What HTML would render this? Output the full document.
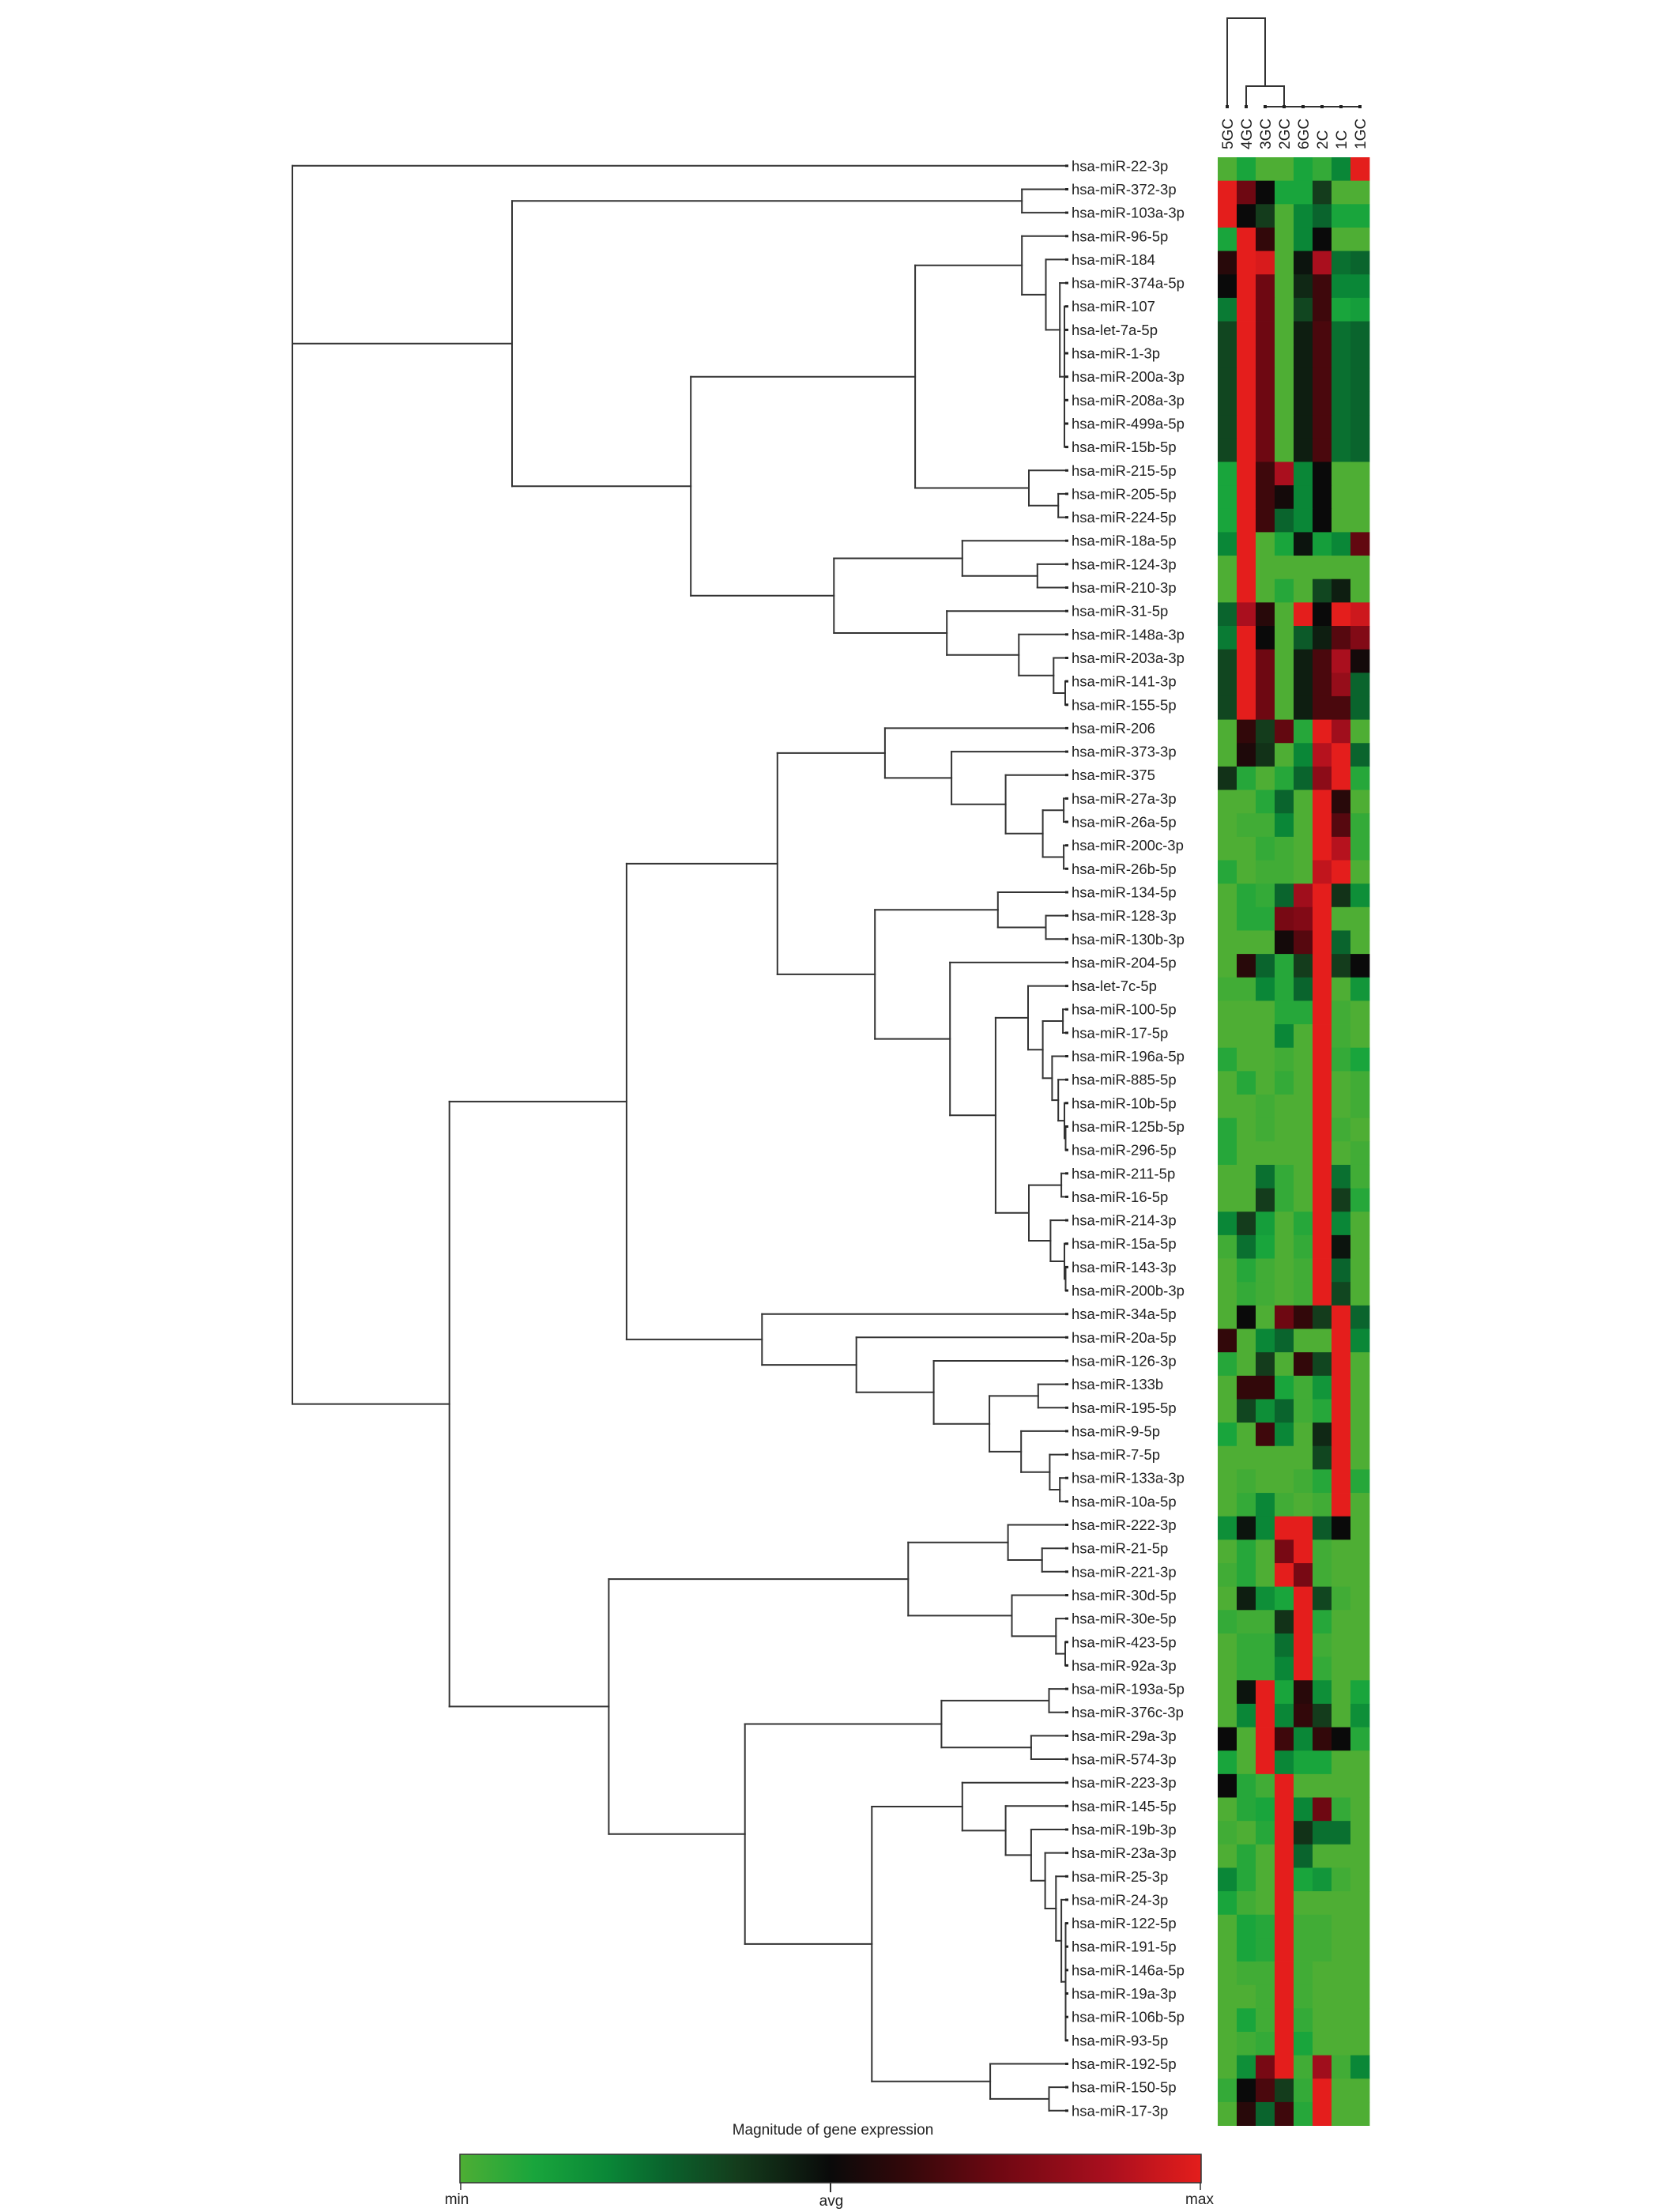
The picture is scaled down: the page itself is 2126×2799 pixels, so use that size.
<!DOCTYPE html>
<html>
<head>
<meta charset="utf-8">
<style>
html,body{margin:0;padding:0;background:#fff;}
svg{display:block;}
text{font-family:"Liberation Sans",Arial,sans-serif;fill:#222;}
</style>
</head>
<body>
<svg id="chart" width="2126" height="2799" viewBox="0 0 2126 2799" xmlns="http://www.w3.org/2000/svg">
  <g id="rowTree"></g>
  <g id="labels"></g>
  <g id="cells"></g>
  <g id="colTree"></g>
  <g id="colLabels"></g>
  <g id="legend">
    <defs>
      <linearGradient id="cgrad" x1="0" x2="1" y1="0" y2="0"></linearGradient>
    </defs>
    <text x="1054" y="2701" font-size="19" text-anchor="middle">Magnitude of gene expression</text>
    <rect x="582" y="2726" width="938" height="36" fill="url(#cgrad)" stroke="#333" stroke-width="1.5"></rect>
    <line x1="583" y1="2762" x2="583" y2="2771" stroke="#333" stroke-width="1.5"></line>
    <line x1="1051" y1="2762" x2="1051" y2="2774" stroke="#333" stroke-width="2"></line>
    <line x1="1519" y1="2762" x2="1519" y2="2771" stroke="#333" stroke-width="1.5"></line>
    <text x="578" y="2789" font-size="19" text-anchor="middle">min</text>
    <text x="1052" y="2791" font-size="19" text-anchor="middle">avg</text>
    <text x="1518" y="2789" font-size="19" text-anchor="middle">max</text>
  </g>
</svg>
<script>
const genes = ["hsa-miR-22-3p","hsa-miR-372-3p","hsa-miR-103a-3p","hsa-miR-96-5p","hsa-miR-184","hsa-miR-374a-5p","hsa-miR-107","hsa-let-7a-5p","hsa-miR-1-3p","hsa-miR-200a-3p","hsa-miR-208a-3p","hsa-miR-499a-5p","hsa-miR-15b-5p","hsa-miR-215-5p","hsa-miR-205-5p","hsa-miR-224-5p","hsa-miR-18a-5p","hsa-miR-124-3p","hsa-miR-210-3p","hsa-miR-31-5p","hsa-miR-148a-3p","hsa-miR-203a-3p","hsa-miR-141-3p","hsa-miR-155-5p",
"hsa-miR-206","hsa-miR-373-3p","hsa-miR-375","hsa-miR-27a-3p","hsa-miR-26a-5p","hsa-miR-200c-3p","hsa-miR-26b-5p","hsa-miR-134-5p","hsa-miR-128-3p","hsa-miR-130b-3p","hsa-miR-204-5p","hsa-let-7c-5p","hsa-miR-100-5p","hsa-miR-17-5p","hsa-miR-196a-5p","hsa-miR-885-5p","hsa-miR-10b-5p","hsa-miR-125b-5p","hsa-miR-296-5p","hsa-miR-211-5p","hsa-miR-16-5p","hsa-miR-214-3p","hsa-miR-15a-5p","hsa-miR-143-3p","hsa-miR-200b-3p",
"hsa-miR-34a-5p","hsa-miR-20a-5p","hsa-miR-126-3p","hsa-miR-133b","hsa-miR-195-5p","hsa-miR-9-5p","hsa-miR-7-5p","hsa-miR-133a-3p","hsa-miR-10a-5p",
"hsa-miR-222-3p","hsa-miR-21-5p","hsa-miR-221-3p","hsa-miR-30d-5p","hsa-miR-30e-5p","hsa-miR-423-5p","hsa-miR-92a-3p",
"hsa-miR-193a-5p","hsa-miR-376c-3p","hsa-miR-29a-3p","hsa-miR-574-3p",
"hsa-miR-223-3p","hsa-miR-145-5p","hsa-miR-19b-3p","hsa-miR-23a-3p","hsa-miR-25-3p","hsa-miR-24-3p","hsa-miR-122-5p","hsa-miR-191-5p","hsa-miR-146a-5p","hsa-miR-19a-3p","hsa-miR-106b-5p","hsa-miR-93-5p",
"hsa-miR-192-5p","hsa-miR-150-5p","hsa-miR-17-3p"];

const samples = ["5GC","4GC","3GC","2GC","6GC","2C","1C","1GC"];

// expression (min=-1, avg=0, max=1), one row per gene, columns in sample order
const expr = [
[-1,-.8,-1,-1,-.8,-.9,-.6,1],
[1,.45,0,-.8,-.8,-.25,-1,-1],
[1,0,-.25,-1,-.6,-.45,-.8,-.8],
[-.8,1,.2,-1,-.6,0,-1,-1],
[.15,1,.95,-1,-.05,.75,-.5,-.45],
[0,1,.45,-1,-.15,.25,-.6,-.6],
[-.55,1,.45,-1,-.3,.25,-.8,-.75],
[-.3,1,.45,-1,-.1,.3,-.5,-.45],
[-.3,1,.45,-1,-.1,.3,-.5,-.45],
[-.3,1,.45,-1,-.1,.3,-.5,-.45],
[-.3,1,.45,-1,-.1,.3,-.5,-.45],
[-.3,1,.45,-1,-.1,.3,-.5,-.45],
[-.3,1,.45,-1,-.1,.3,-.5,-.45],
[-.8,1,.25,.75,-.6,0,-1,-1],
[-.8,1,.25,.05,-.6,0,-1,-1],
[-.8,1,.25,-.45,-.6,0,-1,-1],
[-.6,1,-1,-.8,-.05,-.75,-.6,.4],
[-1,1,-1,-1,-1,-1,-1,-1],
[-1,1,-1,-.85,-1,-.3,-.1,-1],
[-.45,.75,.15,-1,1,0,1,.9],
[-.55,1,0,-1,-.4,-.1,.35,.55],
[-.3,1,.45,-1,-.1,.3,.75,.05],
[-.3,1,.45,-1,-.1,.3,.65,-.45],
[-.3,1,.45,-1,-.1,.3,.3,-.45],
[-1,.2,-.25,.4,-.85,1,.7,-1],
[-1,.1,-.2,-1,-.6,.8,1,-.45],
[-.2,-.85,-1,-.85,-.45,.6,1,-.85],
[-1,-1,-.85,-.45,-1,1,.15,-1],
[-1,-.95,-.95,-.6,-1,1,.35,-.9],
[-1,-1,-.9,-.95,-1,1,.8,-.9],
[-.85,-1,-.95,-.95,-1,.85,1,-1],
[-1,-.85,-.9,-.45,.7,1,-.2,-.65],
[-1,-.85,-.85,.5,.55,1,-1,-1],
[-1,-1,-1,.05,.35,1,-.45,-1],
[-1,.15,-.45,-.85,-.25,1,-.25,0],
[-.95,-.95,-.6,-.85,-.45,1,-1,-.7],
[-1,-1,-1,-.85,-.85,1,-.95,-1],
[-1,-1,-1,-.6,-1,1,-.95,-1],
[-.85,-1,-1,-.95,-1,1,-.9,-.8],
[-1,-.85,-1,-.9,-1,1,-1,-.95],
[-1,-1,-.95,-1,-1,1,-1,-.95],
[-.85,-1,-.95,-1,-1,1,-.95,-1],
[-.85,-1,-1,-1,-1,1,-1,-.95],
[-1,-1,-.5,-.9,-1,1,-.5,-.95],
[-1,-1,-.25,-.9,-1,1,-.25,-.85],
[-.6,-.25,-.75,-1,-.85,1,-.6,-1],
[-.95,-.5,-.8,-1,-.9,1,-.05,-1],
[-1,-.85,-.95,-1,-.95,1,-.45,-1],
[-1,-.9,-.95,-1,-.95,1,-.3,-1],
[-1,0,-1,.45,.2,-.25,1,-.45],
[.2,-1,-.6,-.45,-1,-1,1,-.6],
[-.85,-1,-.25,-1,.2,-.3,1,-1],
[-1,.2,.2,-.8,-.95,-.7,1,-1],
[-1,-.3,-.65,-.45,-.95,-.85,1,-1],
[-.8,-1,.25,-.6,-1,-.15,1,-1],
[-1,-1,-1,-1,-1,-.3,1,-1],
[-1,-.95,-1,-1,-.95,-.85,1,-.85],
[-1,-.9,-.6,-.95,-1,-.95,1,-1],
[-.65,-.05,-.6,1,1,-.4,0,-1],
[-1,-.85,-1,.5,1,-.95,-1,-1],
[-.95,-.85,-1,1,.5,-.95,-1,-1],
[-1,-.1,-.65,-.8,1,-.3,-.95,-1],
[-.9,-.95,-.95,-.2,1,-.85,-1,-1],
[-1,-.9,-.9,-.5,1,-.95,-1,-1],
[-1,-.9,-.9,-.6,1,-.9,-1,-1],
[-1,-.05,1,-.8,.15,-.65,-1,-.8],
[-1,-.6,1,-.6,.2,-.25,-1,-.65],
[0,-1,1,.25,-.6,.2,0,-.85],
[-.8,-1,1,-.6,-.8,-.8,-1,-1],
[0,-.85,-.95,1,-1,-1,-1,-1],
[-1,-.85,-.8,1,-.6,.45,-.9,-1],
[-.95,-1,-.85,1,-.2,-.5,-.5,-1],
[-1,-.85,-1,1,-.45,-1,-1,-1],
[-.6,-.85,-1,1,-.8,-.7,-.95,-1],
[-.8,-.95,-1,1,-1,-1,-1,-1],
[-1,-.8,-.85,1,-.95,-.95,-1,-1],
[-1,-.8,-.85,1,-.95,-.95,-1,-1],
[-1,-.95,-.95,1,-.95,-1,-1,-1],
[-1,-1,-.95,1,-.95,-1,-1,-1],
[-1,-.8,-.95,1,-.9,-1,-1,-1],
[-1,-.95,-.9,1,-.8,-1,-1,-1],
[-1,-.65,.5,1,-.95,.7,-.95,-.6],
[-.9,0,.3,-.25,-.9,1,-1,-1],
[-1,.15,-.45,.25,-.85,1,-1,-1]
];

// row dendrogram: [height, children...]; leaves are gene indices
const rowTree = [100, 0,
 [71.6, [5.7,1,2],
   [48.5,
     [19.5, [5.7,3,[2.6,4,[0.8,5,[0.2,6,7,8,9,10,11,12]]]], [4.8,13,[1.0,14,15]]],
     [30.0, [13.4,16,[3.7,17,18]], [15.4,19,[6.1,20,[1.6,21,[0.1,22,23]]]]]
   ]
 ],
 [79.7,
   [56.8,
     [37.3,
       [23.4,24,[14.8,25,[7.8,26,[3.0,[0.3,27,28],[0.3,29,30]]]]],
       [24.7,
         [8.8,31,[2.6,32,33]],
         [15.0,34,[9.1,
            [4.9,35,[3.0,[0.4,36,37],[1.8,38,[1.0,39,[0.2,40,[0.05,41,42]]]]]],
            [4.8,[0.6,43,44],[2.0,45,[0.2,46,[0.05,47,48]]]]
         ]]
       ]
     ],
     [39.3,49,[27.1,50,[17.1,51,[9.9,[3.6,52,53],[5.8,54,[2.1,55,[0.8,56,57]]]]]]]
   ],
   [59.1,
     [20.4,[7.5,58,[3.1,59,60]],[7.0,61,[1.3,62,[0.1,63,64]]]],
     [41.5,
       [16.1,[2.2,65,66],[4.5,67,68]],
       [25.1,
         [13.4,69,[7.8,70,[4.5,71,[2.7,72,[1.3,73,[0.6,74,[0.05,75,76,77,78,79,80]]]]]]],
         [9.8,81,[2.2,82,83]]
       ]
     ]
   ]
 ]
];

// column dendrogram
const colTree = [100, 0, [23.2, 1, [0, 2, 3, 4, 5, 6, 7]]];

const colorStops = [[0,[78,174,52]],[0.1,[25,165,60]],[0.2,[10,135,55]],[0.275,[10,100,45]],[0.375,[20,60,28]],[0.5,[10,10,10]],[0.6,[50,8,10]],[0.725,[110,8,18]],[0.875,[170,15,30]],[1,[228,30,28]]];

const NS = "http://www.w3.org/2000/svg";
const HM_X = 1541, HM_W = 192, HM_TOP = 199, ROW_H = 29.65;
const COL_W = HM_W / samples.length;
const LEAF_X = 1349, ROOT_X = 370;

function xRow(h){ return LEAF_X - (LEAF_X - ROOT_X) * h / 100; }
function yRow(i){ return HM_TOP + ROW_H * (i + 0.5) - 4; }
function xCol(j){ return HM_X + COL_W * (j + 0.5); }
function yColH(h){ return 135 - h * 1.12; }

function color(v){
  const t = Math.max(0, Math.min(1, (v + 1) / 2));
  for (let i = 1; i < colorStops.length; i++){
    if (t <= colorStops[i][0]){
      const a = colorStops[i-1], b = colorStops[i];
      const f = (t - a[0]) / (b[0] - a[0]);
      const c = a[1].map((x,k)=>Math.round(x + (b[1][k]-x)*f));
      return "rgb(" + c.join(",") + ")";
    }
  }
  return "rgb(228,30,28)";
}

function mk(tag, attrs, parent){
  const el = document.createElementNS(NS, tag);
  for (const k in attrs) el.setAttribute(k, attrs[k]);
  parent.appendChild(el);
  return el;
}

// legend gradient
const grad = document.getElementById("cgrad");
colorStops.forEach(s=>{
  mk("stop", {offset: s[0], "stop-color": "rgb(" + s[1].join(",") + ")"}, grad);
});

// heatmap
const cells = document.getElementById("cells");
expr.forEach((row, i)=>{
  row.forEach((v, j)=>{
    const r = mk("rect", {x: (HM_X + COL_W*j).toFixed(2), y: (HM_TOP + ROW_H*i).toFixed(2), width: (COL_W+0.4).toFixed(2), height: (ROW_H+0.4).toFixed(2), fill: color(v)}, cells);
    
    
  });
});

// gene labels
const labels = document.getElementById("labels");
genes.forEach((g, i)=>{
  const t = mk("text", {x: 1356, y: (yRow(i) + 6.5).toFixed(1), "font-size": "18.5"}, labels);
  t.textContent = g;
  
  
  const d = mk("rect", {x: LEAF_X - 1, y: (yRow(i) - 1.5).toFixed(1), width: 4, height: 3, fill: "#222"}, labels);
  
  
});

// row dendrogram
const rt = document.getElementById("rowTree");
function line(p, x1, y1, x2, y2){
  const l = mk("line", {x1: x1.toFixed(1), y1: y1.toFixed(1), x2: x2.toFixed(1), y2: y2.toFixed(1), stroke: "#333", "stroke-width": "2", "stroke-linecap": "square"}, p);
  
  
}
function drawRow(node){
  if (typeof node === "number") return {x: LEAF_X, y: yRow(node)};
  const x = xRow(node[0]);
  const kids = node.slice(1).map(drawRow);
  const ys = kids.map(k=>k.y);
  const y0 = Math.min(...ys), y1 = Math.max(...ys);
  line(rt, x, y0, x, y1);
  kids.forEach(k=>line(rt, x, k.y, k.x, k.y));
  return {x: x, y: (y0 + y1) / 2};
}
drawRow(rowTree);

// column dendrogram
const ct = document.getElementById("colTree");
function drawCol(node){
  if (typeof node === "number") return {x: xCol(node), y: yColH(0)};
  const y = yColH(node[0]);
  const kids = node.slice(1).map(drawCol);
  const xs = kids.map(k=>k.x);
  const x0 = Math.min(...xs), x1 = Math.max(...xs);
  line(ct, x0, y, x1, y);
  kids.forEach(k=>{ if (k.y !== y) line(ct, k.x, y, k.x, k.y); });
  return {x: node[0] === 0 ? kids[1].x : (x0 + x1) / 2, y: y};
}
drawCol(colTree);

// sample labels
const cl = document.getElementById("colLabels");
samples.forEach((s, j)=>{
  const x = xCol(j) + 7, y = 189;
  const t = mk("text", {x: x.toFixed(1), y: y, "font-size": "19", "text-anchor": "start", transform: "rotate(-90 " + x.toFixed(1) + " " + y + ")"}, cl);
  t.textContent = s;
  
  
  const d = mk("rect", {x: (xCol(j) - 2).toFixed(1), y: 133, width: 4, height: 4, fill: "#222"}, cl);
  
  
});
</script>
</body>
</html>
